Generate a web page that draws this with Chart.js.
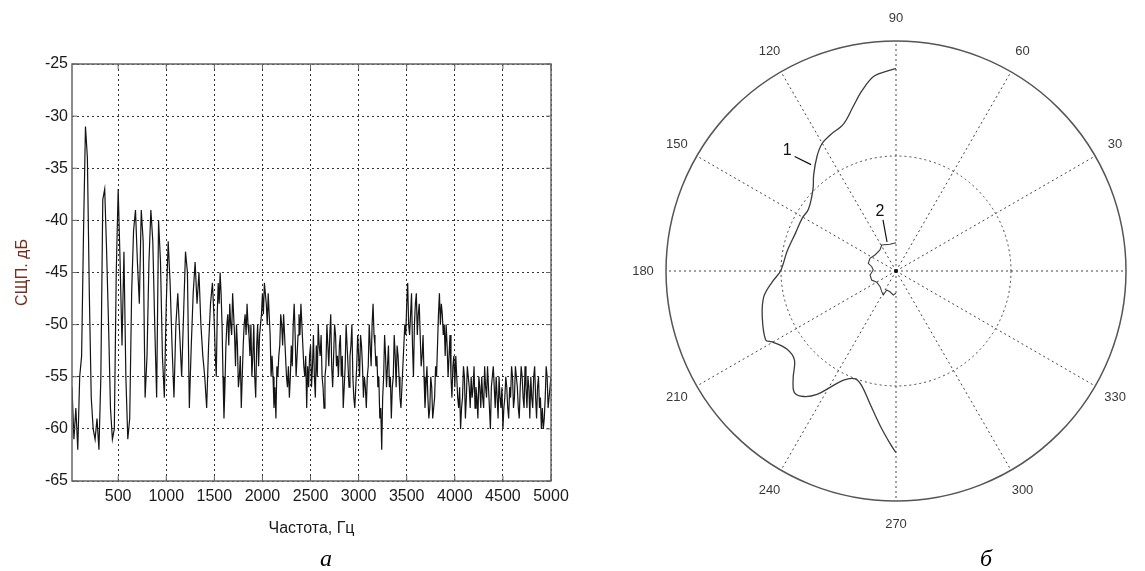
<!DOCTYPE html>
<html>
<head>
<meta charset="utf-8">
<script src="https://cdn.jsdelivr.net/npm/chart.js@4.4.1/dist/chart.umd.min.js"></script>
<style>
  body { margin: 0; background: #fff; width: 1145px; height: 571px; position: relative; overflow: hidden; }
  canvas { position: absolute; top: 0; }
  #spectrum { left: 0; }
  #polar { left: 606px; }
  .caption { position: absolute; font: italic 24px "Liberation Serif", serif; color: #000; transform: translate(-50%, -50%); }
</style>
</head>
<body>
<canvas id="spectrum" width="580" height="571"></canvas>
<canvas id="polar" width="539" height="560"></canvas>
<div class="caption" style="left:326px; top:558px;">а</div>
<div class="caption" style="left:986px; top:558px;">б</div>
<script>
// spectrum (left plot): 20 Hz steps up to 1500, then 10 Hz
var freqs = [
    20, 40, 60, 80, 100, 120, 140, 160, 180, 200,
    220, 240, 260, 280, 300, 320, 340, 360, 380, 400,
    420, 440, 460, 480, 500, 520, 540, 560, 580, 600,
    620, 640, 660, 680, 700, 720, 740, 760, 780, 800,
    820, 840, 860, 880, 900, 920, 940, 960, 980, 1000,
    1020, 1040, 1060, 1080, 1100, 1120, 1140, 1160, 1180, 1200,
    1220, 1240, 1260, 1280, 1300, 1320, 1340, 1360, 1380, 1400,
    1420, 1440, 1460, 1480, 1500,
    1510, 1520, 1530, 1540, 1550, 1560, 1570, 1580, 1590, 1600,
    1610, 1620, 1630, 1640, 1650, 1660, 1670, 1680, 1690, 1700,
    1710, 1720, 1730, 1740, 1750, 1760, 1770, 1780, 1790, 1800,
    1810, 1820, 1830, 1840, 1850, 1860, 1870, 1880, 1890, 1900,
    1910, 1920, 1930, 1940, 1950, 1960, 1970, 1980, 1990, 2000,
    2010, 2020, 2030, 2040, 2050, 2060, 2070, 2080, 2090, 2100,
    2110, 2120, 2130, 2140, 2150, 2160, 2170, 2180, 2190, 2200,
    2210, 2220, 2230, 2240, 2250, 2260, 2270, 2280, 2290, 2300,
    2310, 2320, 2330, 2340, 2350, 2360, 2370, 2380, 2390, 2400,
    2410, 2420, 2430, 2440, 2450, 2460, 2470, 2480, 2490, 2500,
    2510, 2520, 2530, 2540, 2550, 2560, 2570, 2580, 2590, 2600,
    2610, 2620, 2630, 2640, 2650, 2660, 2670, 2680, 2690, 2700,
    2710, 2720, 2730, 2740, 2750, 2760, 2770, 2780, 2790, 2800,
    2810, 2820, 2830, 2840, 2850, 2860, 2870, 2880, 2890, 2900,
    2910, 2920, 2930, 2940, 2950, 2960, 2970, 2980, 2990, 3000,
    3010, 3020, 3030, 3040, 3050, 3060, 3070, 3080, 3090, 3100,
    3110, 3120, 3130, 3140, 3150, 3160, 3170, 3180, 3190, 3200,
    3210, 3220, 3230, 3240, 3250, 3260, 3270, 3280, 3290, 3300,
    3310, 3320, 3330, 3340, 3350, 3360, 3370, 3380, 3390, 3400,
    3410, 3420, 3430, 3440, 3450, 3460, 3470, 3480, 3490, 3500,
    3510, 3520, 3530, 3540, 3550, 3560, 3570, 3580, 3590, 3600,
    3610, 3620, 3630, 3640, 3650, 3660, 3670, 3680, 3690, 3700,
    3710, 3720, 3730, 3740, 3750, 3760, 3770, 3780, 3790, 3800,
    3810, 3820, 3830, 3840, 3850, 3860, 3870, 3880, 3890, 3900,
    3910, 3920, 3930, 3940, 3950, 3960, 3970, 3980, 3990, 4000,
    4010, 4020, 4030, 4040, 4050, 4060, 4070, 4080, 4090, 4100,
    4110, 4120, 4130, 4140, 4150, 4160, 4170, 4180, 4190, 4200,
    4210, 4220, 4230, 4240, 4250, 4260, 4270, 4280, 4290, 4300,
    4310, 4320, 4330, 4340, 4350, 4360, 4370, 4380, 4390, 4400,
    4410, 4420, 4430, 4440, 4450, 4460, 4470, 4480, 4490, 4500,
    4510, 4520, 4530, 4540, 4550, 4560, 4570, 4580, 4590, 4600,
    4610, 4620, 4630, 4640, 4650, 4660, 4670, 4680, 4690, 4700,
    4710, 4720, 4730, 4740, 4750, 4760, 4770, 4780, 4790, 4800,
    4810, 4820, 4830, 4840, 4850, 4860, 4870, 4880, 4890, 4900,
    4910, 4920, 4930, 4940, 4950, 4960, 4970, 4980, 4990, 5000
];
var psd = [
    -56, -61, -58, -62, -55, -53, -41, -31, -34, -47,
    -57, -60, -61, -59, -62, -55, -38, -37, -43, -50,
    -58, -61, -60, -45, -37, -44, -52, -43, -55, -61,
    -59, -47, -41, -39, -44, -48, -39, -42, -57, -53,
    -44, -39, -42, -50, -57, -40, -44, -53, -57, -48,
    -42, -46, -52, -57, -50, -47, -51, -55, -49, -43,
    -45, -58, -52, -47, -44, -48, -45, -50, -53, -55,
    -58, -52, -48, -46, -50,
    -53, -55, -49, -46, -48, -45, -47, -50, -55, -59,
    -56, -52, -50, -49, -52, -48, -50, -51, -47, -49,
    -51, -54, -50, -52, -56, -55, -53, -58, -55, -52,
    -50, -49, -51, -48, -50, -51, -53, -50, -55, -53,
    -50, -55, -57, -52, -50, -54, -51, -50, -49, -47,
    -49, -46, -47, -48, -50, -47, -49, -51, -55, -53,
    -55, -58, -56, -59, -54, -55, -53, -52, -49, -50,
    -52, -49, -51, -53, -55, -56, -54, -57, -55, -52,
    -54, -50, -48, -51, -55, -53, -51, -49, -51, -48,
    -50, -52, -54, -55, -53, -58, -54, -56, -53, -52,
    -56, -54, -51, -55, -57, -52, -55, -50, -52, -53,
    -51, -55, -56, -58, -55, -54, -50, -52, -54, -51,
    -49, -54, -56, -53, -50, -51, -54, -53, -55, -52,
    -51, -55, -53, -58, -56, -54, -50, -52, -54, -56,
    -53, -52, -50, -55, -57, -58, -56, -54, -51, -53,
    -55, -51, -52, -54, -57, -55, -56, -58, -55, -54,
    -50, -52, -54, -50, -48, -51, -52, -54, -53, -56,
    -55, -59, -58, -62, -57, -55, -51, -53, -56, -54,
    -52, -56, -55, -59, -56, -55, -51, -53, -56, -52,
    -53, -55, -57, -58, -56, -54, -52, -50, -51, -48,
    -46, -50, -51, -49, -47, -52, -55, -50, -48, -47,
    -51, -49, -48, -51, -54, -53, -51, -55, -58, -56,
    -54, -57, -59, -58, -55, -56, -59, -58, -57, -54,
    -55, -52, -49, -47, -50, -48, -49, -51, -50, -53,
    -50, -52, -55, -53, -51, -55, -57, -54, -53, -56,
    -53, -55, -57, -58, -56, -60, -58, -57, -54, -55,
    -59, -57, -54, -55, -56, -58, -55, -57, -56, -54,
    -58, -56, -57, -59, -55, -56, -58, -55, -57, -58,
    -54, -56, -57, -54, -56, -58, -60, -56, -55, -54,
    -56, -58, -55, -57, -59, -55, -57, -58, -56, -60,
    -58, -57, -55, -56, -58, -59, -56, -57, -54, -55,
    -58, -57, -54, -55, -56, -58, -59, -56, -54, -55,
    -57, -58, -54, -56, -58, -55, -56, -59, -55, -57,
    -58, -55, -54, -57, -59, -56, -55, -58, -57, -60,
    -58, -60, -59, -57, -54, -55, -58, -57, -56, -55
];
var freqTicks = [500, 1000, 1500, 2000, 2500, 3000, 3500, 4000, 4500, 5000];
var dbTicks = [-65, -60, -55, -50, -45, -40, -35, -30, -25];

// polar plot (right), angles in degrees, radius relative to outer ring
var curve1Angle = [90, 92.6, 96.6, 100.8, 104.4, 109.6, 115.8, 120.2, 124.6, 130.5, 135.5, 144.7,
    150.7, 159.2, 169.6, 180, 185, 190.9, 198.7, 207.9, 209.8, 215.7, 221.2, 226.2, 230.1,
    233.7, 237.4, 240.5, 244.3, 249.3, 253.3, 258.9, 264.1, 268, 270];
var curve1R = [0.88, 0.87, 0.851, 0.796, 0.742, 0.679, 0.657, 0.64, 0.605, 0.551, 0.506, 0.466,
    0.468, 0.467, 0.481, 0.502, 0.54, 0.585, 0.614, 0.641, 0.62, 0.583, 0.587, 0.646, 0.689,
    0.677, 0.637, 0.581, 0.526, 0.501, 0.52, 0.588, 0.675, 0.75, 0.79];
var curve2Angle = [90, 102.7, 118.8, 127.3, 142.7, 154, 164.5, 170, 177.5, 188.7, 200.3,
    210.4, 224.5, 235.4, 242.1, 243.9, 253.8, 263.6, 270];
var curve2R = [0.123, 0.119, 0.129, 0.115, 0.115, 0.126, 0.125, 0.107, 0.099, 0.114, 0.113,
    0.097, 0.097, 0.109, 0.118, 0.092, 0.094, 0.105, 0.096];
var angleTicks = [0, 30, 60, 90, 120, 150, 180, 210, 240, 270, 300, 330];
var ringTicks = [0.5, 1];

var font = { family: '"Liberation Sans", Arial, sans-serif', size: 16 };

// box + inward tick marks like matlab
var boxPlugin = {
    id: 'box',
    afterDraw: function(chart) {
        var c = chart.ctx, a = chart.chartArea;
        var sx = chart.scales.x, sy = chart.scales.y;
        c.save();
        c.strokeStyle = '#666';
        c.lineWidth = 1.5;
        c.strokeRect(a.left, a.top, a.right - a.left, a.bottom - a.top);
        c.lineWidth = 1;
        c.beginPath();
        freqTicks.forEach(function(v) {
            var px = sx.getPixelForValue(v);
            c.moveTo(px, a.bottom); c.lineTo(px, a.bottom - 5);
            c.moveTo(px, a.top); c.lineTo(px, a.top + 5);
        });
        dbTicks.forEach(function(v) {
            var py = sy.getPixelForValue(v);
            c.moveTo(a.left, py); c.lineTo(a.left + 5, py);
            c.moveTo(a.right, py); c.lineTo(a.right - 5, py);
        });
        c.stroke();
        c.restore();
    }
};

var ctx = document.getElementById('spectrum').getContext('2d');
var chart = new Chart(ctx, {
    type: 'scatter',
    data: {
        datasets: [{
            data: freqs.map(function(f, i) { return { x: f, y: psd[i] }; }),
            showLine: true,
            borderColor: '#141414',
            borderWidth: 1.2,
            pointRadius: 0,
            tension: 0
        }]
    },
    options: {
        responsive: false,
        animation: false,
        layout: { padding: { top: 64, right: 29, left: 0, bottom: 0 } },
        plugins: { legend: { display: false }, tooltip: { enabled: false } },
        scales: {
            x: {
                type: 'linear',
                min: 20,
                max: 5000,
                afterBuildTicks: function(s) { s.ticks = freqTicks.map(function(v) { return { value: v }; }); },
                afterFit: function(s) { s.height = 90; },
                ticks: { font: font, color: '#1a1a1a', padding: 6, autoSkip: false, maxRotation: 0,
                    callback: function(v) { return String(v); } },
                grid: { color: '#333', drawTicks: false, lineWidth: 1 },
                border: { display: false, dash: [2, 3] },
                title: { display: true, text: 'Частота, Гц', font: font, color: '#1a1a1a',
                    padding: { top: 0, bottom: 33 } }
            },
            y: {
                min: -65,
                max: -25,
                afterBuildTicks: function(s) { s.ticks = dbTicks.map(function(v) { return { value: v }; }); },
                afterFit: function(s) { s.width = 72; },
                ticks: { font: font, color: '#1a1a1a', padding: 4,
                    callback: function(v) { return String(v); } },
                grid: { color: '#333', drawTicks: false, lineWidth: 1 },
                border: { display: false, dash: [2, 3] },
                title: { display: true, text: 'СЩП. дБ', font: font, color: '#7a2e1e',
                    padding: { top: 13, bottom: 0 } }
            }
        }
    },
    plugins: [boxPlugin]
});

// polar grid drawn on a plain x/y scatter
var polarGrid = {
    id: 'polarGrid',
    beforeDatasetsDraw: function(chart) {
        var c = chart.ctx, sx = chart.scales.x, sy = chart.scales.y;
        var cx = sx.getPixelForValue(0), cy = sy.getPixelForValue(0);
        var R = sx.getPixelForValue(1) - cx;
        c.save();
        c.strokeStyle = '#444';
        c.lineWidth = 1;
        c.setLineDash([2, 3]);
        c.beginPath();
        angleTicks.forEach(function(a) {
            var t = a * Math.PI / 180;
            c.moveTo(cx, cy);
            c.lineTo(cx + R * Math.cos(t), cy - R * Math.sin(t));
        });
        c.stroke();
        ringTicks.forEach(function(r) {
            c.beginPath();
            if (r === 1) { c.setLineDash([]); c.strokeStyle = '#555'; c.lineWidth = 1.5; }
            c.arc(cx, cy, R * r, 0, Math.PI * 2);
            c.stroke();
        });
        c.fillStyle = '#111';
        c.beginPath();
        c.arc(cx, cy, 2, 0, Math.PI * 2);
        c.fill();
        c.fillStyle = '#3a3a3a';
        c.font = '13px "Liberation Sans", Arial, sans-serif';
        c.textAlign = 'center';
        c.textBaseline = 'middle';
        angleTicks.forEach(function(a) {
            var t = a * Math.PI / 180;
            c.fillText(String(a), cx + 1.1 * R * Math.cos(t), cy - 1.1 * R * Math.sin(t));
        });
        c.restore();
    },
    afterDatasetsDraw: function(chart) {
        // curve numbers with leader lines, positions in polar units
        var c = chart.ctx, sx = chart.scales.x, sy = chart.scales.y;
        var pt = function(a, r) {
            var t = a * Math.PI / 180;
            return [sx.getPixelForValue(r * Math.cos(t)), sy.getPixelForValue(r * Math.sin(t))];
        };
        c.save();
        c.strokeStyle = '#111';
        c.fillStyle = '#111';
        c.lineWidth = 1.2;
        c.font = '16px "Liberation Sans", Arial, sans-serif';
        c.textAlign = 'center';
        c.textBaseline = 'middle';
        var l1 = pt(132.2, 0.705), a1 = pt(131.5, 0.665), b1 = pt(128.6, 0.592);
        var l2 = pt(105.2, 0.266), a2 = pt(104.3, 0.229), b2 = pt(107.2, 0.132);
        c.fillText('1', l1[0], l1[1]);
        c.fillText('2', l2[0], l2[1]);
        c.beginPath();
        c.moveTo(a1[0], a1[1]); c.lineTo(b1[0], b1[1]);
        c.moveTo(a2[0], a2[1]); c.lineTo(b2[0], b2[1]);
        c.stroke();
        c.restore();
    }
};

function toXY(angles, radii) {
    return angles.map(function(a, i) {
        var t = a * Math.PI / 180;
        return { x: radii[i] * Math.cos(t), y: radii[i] * Math.sin(t) };
    });
}

var ctx2 = document.getElementById('polar').getContext('2d');
var chart2 = new Chart(ctx2, {
    type: 'scatter',
    data: {
        datasets: [{
            label: '1',
            data: toXY(curve1Angle, curve1R),
            showLine: true,
            borderColor: '#3c3c3c',
            borderWidth: 1.3,
            pointRadius: 0,
            tension: 0.35
        }, {
            label: '2',
            data: toXY(curve2Angle, curve2R),
            showLine: true,
            borderColor: '#3c3c3c',
            borderWidth: 1.1,
            pointRadius: 0,
            tension: 0
        }]
    },
    options: {
        responsive: false,
        animation: false,
        layout: { padding: 0 },
        plugins: { legend: { display: false }, tooltip: { enabled: false } },
        scales: {
            x: { display: false, min: -290 / 230, max: 249 / 230 },
            y: { display: false, min: -289 / 230, max: 271 / 230 }
        }
    },
    plugins: [polarGrid]
});
</script>
</body>
</html>
